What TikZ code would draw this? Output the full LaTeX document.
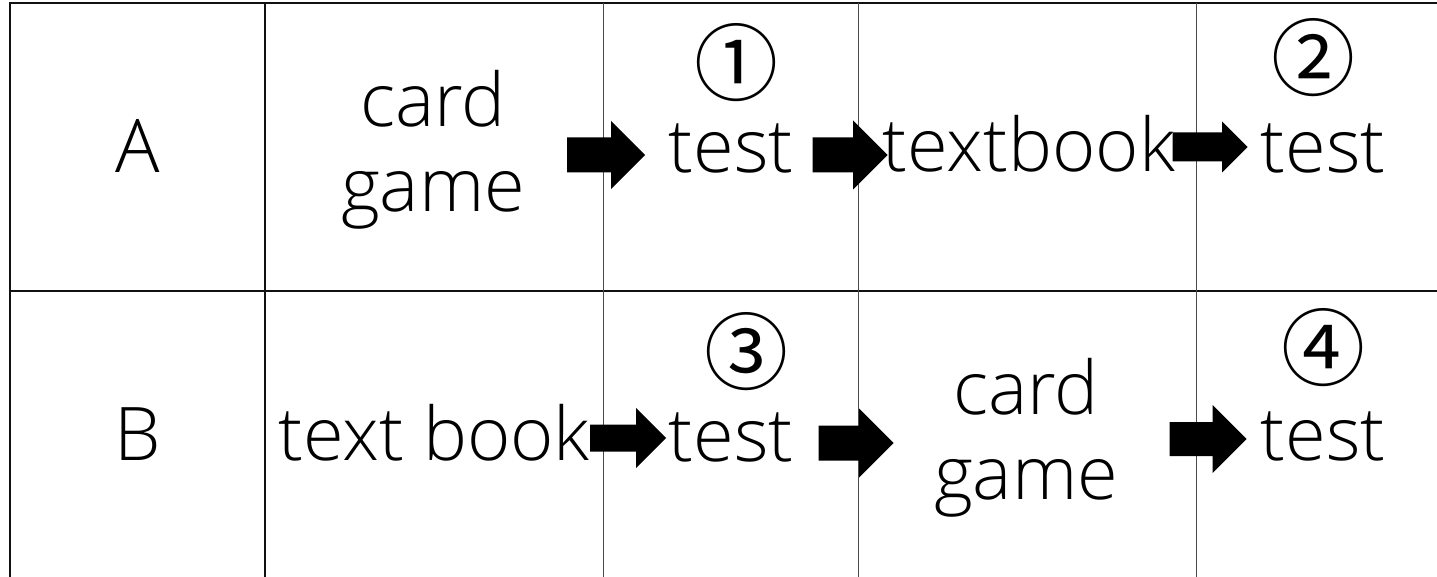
\documentclass[tikz,border=0pt]{standalone}
\usepackage{fontspec}
\setmainfont{Open Sans}[UprightFont=* Light]
\newfontfamily\cjk{Noto Sans CJK JP}
\usepackage{tikz}
\definecolor{rule}{HTML}{111111}
\definecolor{thinrule}{HTML}{4A4A4A}
\tikzset{
  pics/blockarrow/.style args={#1/#2/#3}{code={
    \fill (-#1/2,-#2/2) -- (#1/2-#3/2,-#2/2) -- (#1/2-#3/2,-#3/2) -- (#1/2,0)
      -- (#1/2-#3/2,#3/2) -- (#1/2-#3/2,#2/2) -- (-#1/2,#2/2) -- cycle;
  }},
}

\begin{document}
\begin{tikzpicture}[
  x=1pt,y=-1pt,
  lbl/.style={inner sep=0pt,anchor=base,font=\fontsize{74}{85}\selectfont},
  twoline/.style={inner sep=0pt,align=center,font=\fontsize{74}{85}\selectfont},
  num/.style={inner sep=0pt,font=\cjk\fontsize{84}{90}\selectfont},
  heavy/.style={rule,line width=1.6pt},
  light/.style={thinrule,line width=0.9pt},
]
\useasboundingbox (0,0) rectangle (1437,577);
% grid
\draw[heavy] (10,577) -- (10,3) -- (1437,3);
\draw[heavy] (10,291) -- (1437,291);
\draw[heavy] (265,3) -- (265,577);
\foreach \cx in {603,858,1196} \draw[light] (\cx,3) -- (\cx,577);
% row A
\node[lbl] (hdA) at (138,173) {A};
\node[twoline] (cardA) at (433,150) {card\\game};
\pic (arA1) at (606,155) {blockarrow=78/35/68};
\node[num] (n1) at (736,63) {①};
\node[lbl] (testA1) at (731,173) {test};
\pic (arA2) at (850,155) {blockarrow=75/35/69};
\node[lbl] (bookA) at (1029,172) {textbook};
\pic (arA3) at (1210,147) {blockarrow=75/29/51};
\node[num] (n2) at (1313,58) {②};
\node[lbl] (testA2) at (1323,173) {test};
% row B
\node[lbl] (hdB) at (138,460) {B};
\node[lbl] (bookB) at (434,460) {text book};
\pic (arB1) at (628,438) {blockarrow=76/27/60};
\node[num] (n3) at (746,352) {③};
\node[lbl] (testB1) at (731,461) {test};
\pic (arB2) at (856,443) {blockarrow=75/35/69};
\node[twoline] (cardB) at (1026,438) {card\\game};
\pic (arB3) at (1208,439) {blockarrow=77/34/68};
\node[num] (n4) at (1323,348) {④};
\node[lbl] (testB2) at (1323,460) {test};
\end{tikzpicture}
\end{document}
